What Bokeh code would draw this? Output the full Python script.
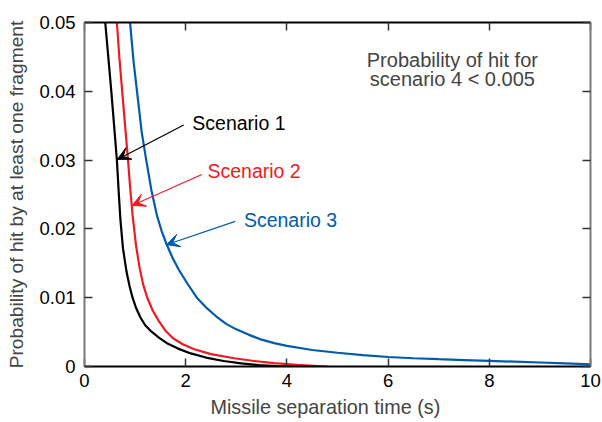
from bokeh.plotting import figure
from bokeh.models import LinearAxis, Range1d, Arrow, VeeHead, Label, FixedTicker, Title
from bokeh.embed import file_html
from bokeh.resources import INLINE

# Scenario 1 (black)
s1_x = [0.41, 0.47, 0.53, 0.585, 0.64, 0.675, 0.71, 0.76, 0.83, 0.89, 0.95, 1.02, 1.10, 1.20, 1.32, 1.47, 1.65, 1.85, 2.10, 2.40, 2.75, 3.10, 3.45, 3.80, 4.20]
s1_y = [0.050, 0.045, 0.040, 0.035, 0.030, 0.0255, 0.0213, 0.0172, 0.0138, 0.0117, 0.0100, 0.0085, 0.0072, 0.0060, 0.0051, 0.0042, 0.0033, 0.0026, 0.0019, 0.0013, 0.0008, 0.00045, 0.0002, 0.00005, 0.0]

# Scenario 2 (red)
s2_x = [0.64, 0.69, 0.745, 0.80, 0.86, 0.90, 0.95, 1.02, 1.09, 1.16, 1.24, 1.35, 1.47, 1.60, 1.75, 1.95, 2.17, 2.50, 2.96, 3.35, 3.75, 4.20, 4.80]
s2_y = [0.050, 0.0448, 0.040, 0.0352, 0.030, 0.0262, 0.0220, 0.0175, 0.0143, 0.0119, 0.0100, 0.0081, 0.0066, 0.0052, 0.0041, 0.0032, 0.0025, 0.0018, 0.0012, 0.0008, 0.0005, 0.00025, 0.0]

# Scenario 3 (blue)
s3_x = [0.90, 0.97, 1.05, 1.13, 1.22, 1.32, 1.43, 1.52, 1.62, 1.74, 1.86, 2.03, 2.22, 2.40, 2.60, 2.80, 3.00, 3.25, 3.50, 3.75, 4.00, 4.50, 5.00, 5.50, 6.00, 6.50, 7.00, 7.50, 8.00, 8.50, 9.00, 9.50, 10.0]
s3_y = [0.0500, 0.0443, 0.0392, 0.0341, 0.0300, 0.0257, 0.0220, 0.0198, 0.0178, 0.0158, 0.0141, 0.0121, 0.0100, 0.0086, 0.0073, 0.0062, 0.0054, 0.0046, 0.0039, 0.0034, 0.0030, 0.0024, 0.0020, 0.00165, 0.00138, 0.00120, 0.00106, 0.00094, 0.00082, 0.00070, 0.00058, 0.00045, 0.00032]

x_ticks = [0, 2, 4, 6, 8, 10]
y_ticks = [0, 0.01, 0.02, 0.03, 0.04, 0.05]
y_tick_labels = {0: "0", 0.01: "0.01", 0.02: "0.02", 0.03: "0.03", 0.04: "0.04", 0.05: "0.05"}

BLACK = "#000000"
RED = "#ED1C24"
BLUE = "#005BAC"
FONT = "Liberation Sans"

p = figure(width=602, height=422, x_range=Range1d(0, 10), y_range=Range1d(0, 0.05),
           output_backend="svg", toolbar_location=None,
           min_border_left=84, min_border_right=12, min_border_top=22, min_border_bottom=55)
p.grid.visible = False
p.outline_line_color = None
p.background_fill_color = "white"
p.border_fill_color = "white"

def style_axis(ax, line_color, labels=True, ticks=None):
    ax.axis_line_color = line_color
    ax.axis_line_width = 2
    ax.major_tick_in = 8
    ax.major_tick_out = 0
    ax.major_tick_line_color = "#333333"
    ax.major_tick_line_width = 1.5
    ax.minor_tick_line_color = None
    if labels:
        ax.major_label_text_font = FONT
        ax.major_label_text_font_size = "18.5px"
        ax.major_label_text_color = "#000000"
    else:
        ax.major_label_overrides = {t: "" for t in ticks}
        ax.major_label_text_font_size = "0px"
        ax.major_label_standoff = 0

p.xaxis.ticker = FixedTicker(ticks=x_ticks)
p.yaxis.ticker = FixedTicker(ticks=y_ticks)
p.yaxis.major_label_overrides = y_tick_labels
style_axis(p.xaxis[0], "#000000")
style_axis(p.yaxis[0], "#7a7a7a")
p.xaxis.major_label_standoff = 7
p.yaxis.major_label_standoff = 9

p.yaxis.axis_label = "Probability of hit by at least one fragment"
p.yaxis.axis_label_text_font = FONT
p.yaxis.axis_label_text_font_size = "19.2px"
p.yaxis.axis_label_text_font_style = "normal"
p.yaxis.axis_label_standoff = 9

top_ax = LinearAxis(ticker=FixedTicker(ticks=x_ticks))
style_axis(top_ax, "#000000", labels=False, ticks=x_ticks)
p.add_layout(top_ax, "above")
right_ax = LinearAxis(ticker=FixedTicker(ticks=y_ticks))
style_axis(right_ax, "#7a7a7a", labels=False, ticks=y_ticks)
p.add_layout(right_ax, "right")

# x axis label as a left-aligned title below the axis (slightly left of centre as in the reference)
p.add_layout(Title(text="Missile separation time (s)", align="left", offset=126,
                   text_font=FONT, text_font_size="19.8px", text_font_style="normal",
                   standoff=9), "below")

p.line(s1_x, s1_y, line_color=BLACK, line_width=2.2)
p.line(s2_x, s2_y, line_color=RED, line_width=2.2)
p.line(s3_x, s3_y, line_color=BLUE, line_width=2.2)

# arrows
for (xs, ys, xe, ye, c) in [(1.96, 0.0351, 0.65, 0.0301, BLACK),
                             (2.32, 0.0279, 0.94, 0.0234, RED),
                             (2.98, 0.0211, 1.62, 0.0177, BLUE)]:
    p.add_layout(Arrow(end=VeeHead(size=13, fill_color=c, line_color=c, line_width=1),
                       x_start=xs, y_start=ys, x_end=xe, y_end=ye,
                       line_color=c, line_width=1.2))

for (tx, ty, txt, c) in [(2.13, 0.0354, "Scenario 1", BLACK),
                         (2.43, 0.0284, "Scenario 2", RED),
                         (3.15, 0.0213, "Scenario 3", BLUE)]:
    p.add_layout(Label(x=tx, y=ty, text=txt, text_color=c, text_font=FONT,
                       text_font_size="19.5px", text_baseline="middle", text_align="left"))

p.add_layout(Label(x=7.27, y=0.0446, text="Probability of hit for", text_font=FONT,
                   text_font_size="20px", text_baseline="middle", text_align="center"))
p.add_layout(Label(x=7.27, y=0.0418, text="scenario 4 < 0.005", text_font=FONT,
                   text_font_size="20px", text_baseline="middle", text_align="center"))

open("out.html", "w").write(file_html(p, INLINE))
